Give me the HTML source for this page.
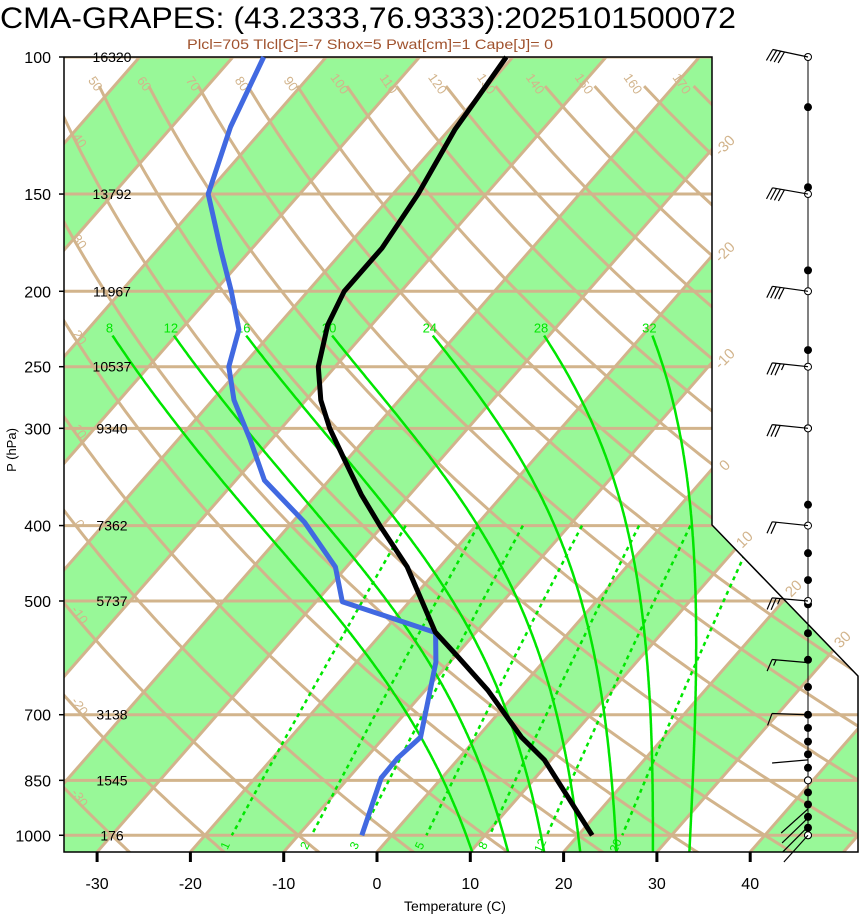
<!DOCTYPE html>
<html><head><meta charset="utf-8"><style>
html,body{margin:0;padding:0;background:#fff;}
svg{display:block;font-family:"Liberation Sans",Arial,sans-serif;}
</style></head><body>
<svg id="chart" width="860" height="914" viewBox="0 0 860 914" xmlns="http://www.w3.org/2000/svg">
<defs><clipPath id="plotclip"><polygon points="64,57 712,57 712,525 858,676 858,852 64,852"/></clipPath></defs>
<rect x="0" y="0" width="860" height="914" fill="#fff"/>
<text x="0" y="28" font-size="30" textLength="736" lengthAdjust="spacingAndGlyphs">CMA-GRAPES: (43.2333,76.9333):2025101500072</text>
<text x="187" y="49" font-size="14" fill="#a0522d" textLength="366" lengthAdjust="spacingAndGlyphs">Plcl=705 Tlcl[C]=-7 Shox=5 Pwat[cm]=1 Cape[J]= 0</text>
<g id="bg" clip-path="url(#plotclip)"></g>
<g id="fg"></g>
</svg>
<script>
// ---- data ----
const tempP = [1000,800,748,651,590,548,452,400,365,329,300,276,250,221,200,176,150,124,112,100];
const tempT = [21.5,9.3,4.7,-3.3,-9.6,-14.4,-23.5,-30.3,-35.2,-40.3,-44.8,-48.4,-51.8,-54.7,-56.1,-56.1,-57.3,-59.4,-60.0,-60.7];
const dewP = [1000,844,796,748,599,549,501,452,396,350,310,276,250,224,200,177,150,123,100];
const dewT = [-3.2,-6.5,-6.6,-6.1,-11.5,-14.3,-27.2,-31.2,-38.7,-46.9,-52.3,-57.7,-61.4,-63.8,-68.2,-73.2,-79.8,-83.7,-86.7];
const pLevels = [100,150,200,250,300,400,500,700,850,1000];
const heights = ["16320","13792","11967","10537","9340","7362","5737","3138","1545","176"];
const tTicks = [-30,-20,-10,0,10,20,30,40];
const moistLabels = [8,12,16,20,24,28,32];
const mixRatios = [1,2,3,5,8,12,20];
const mixLabels = ["1","2","3","5","8","12","20"];
const dryThetas = [-30,-20,-10,0,10,20,30,40,50,60,70,80,90,100,110,120,130,140,150,160,170];
const dotP = [116,147,188,238,300,376,434,470,505,550,595,645,700,728,758,787,819,850,881,913,947,978,1000];
const openP = [100,150,200,250,300,400,500,850,1000];
const barbP = [100,150,200,250,300,400,500,600,700,800,925,950,975,1000];
const barbDir = [282,280,278,276,276,276,275,275,272,265,228,226,225,222];
const barbSpd = [40,40,40,35,30,20,25,15,10,5,5,5,5,5];

// ---- axes ----
const NS="http://www.w3.org/2000/svg";
const Y0=57, YS=338, X0=377, XS=9.33, SK=0.875, YB=852;
function yP(p){return Y0+YS*Math.log(p/100);}
function xT(T,p){return X0+XS*T+SK*(YB-yP(p));}
function xTy(T,y){return X0+XS*T+SK*(YB-y);}
function mk(parent,tag,attrs){const e=document.createElementNS(NS,tag);for(const k in attrs)e.setAttribute(k,attrs[k]);parent.appendChild(e);return e;}
const bg=document.getElementById('bg'), fg=document.getElementById('fg');
const TAN="#d2b48c", GRN="#98f898", LG="#00e600";

for(let T=-200;T<=60;T+=20){
  const e=mk(bg,'polygon',{points:`${xTy(T,YB)},${YB} ${xTy(T+10,YB)},${YB} ${xTy(T+10,Y0)},${Y0} ${xTy(T,Y0)},${Y0}`,fill:GRN});
  
  
}
for(let T=-200;T<=60;T+=10){
  const e=mk(bg,'line',{x1:xTy(T,YB),y1:YB,x2:xTy(T,Y0),y2:Y0,stroke:TAN,'stroke-width':3});
  
  
}
dryThetas.forEach(th=>{
  let d='';
  for(let p=109;p<=1060;p+=8){const T=(th+273.15)*Math.pow(p/1000,0.2857)-273.15;d+=(d?'L':'M')+xT(T,p).toFixed(1)+','+yP(p).toFixed(1);}
  const e=mk(bg,'path',{d:d,fill:'none',stroke:TAN,'stroke-width':3});
  
  
  let lp=104, T=(th+273.15)*Math.pow(lp/1000,0.2857)-273.15, lx=xT(T,lp), ly=yP(lp)+16;
  if(lx<76){
    for(let p=104;p<1050;p+=1){T=(th+273.15)*Math.pow(p/1000,0.2857)-273.15;if(xT(T,p)>=76){lx=76;ly=yP(p);break;}}
  }
  if(lx<700 && ly<850){
    const t=mk(bg,'text',{x:lx,y:ly,'font-size':13,fill:TAN,'text-anchor':'middle',transform:`rotate(55 ${lx} ${ly})`});
    t.textContent=th;
    
    
  }
});
pLevels.forEach(p=>{
  const e=mk(bg,'line',{x1:64,y1:yP(p),x2:860,y2:yP(p),stroke:TAN,'stroke-width':3});
  
  
});
function es(Tk){return 6.112*Math.exp(17.67*(Tk-273.15)/(Tk-29.65));}
function dTdp(Tk,p){const e=es(Tk),rs=0.622*e/(p-e);return (287*Tk+2.5e6*rs)/(p*(1004+2.5e6*2.5e6*rs*0.622/(287*Tk*Tk)));}
moistLabels.forEach(T0=>{
  let pts=[];let T=T0+273.15,p=1000;
  let Td=T;for(let q=1000;q<1050;q+=2){Td+=dTdp(Td,q)*2;}
  pts.push([Td,1050]);
  T=T0+273.15;const up=[];
  for(p=1000;p>228;p-=2){up.push([T,p]);T-=dTdp(T,p)*2;}
  up.push([T,228]);
  pts=pts.concat(up);
  const d=pts.map((a,i)=>(i?'L':'M')+xT(a[0]-273.15,a[1]).toFixed(1)+','+yP(a[1]).toFixed(1)).join('');
  const e=mk(bg,'path',{d:d,fill:'none',stroke:LG,'stroke-width':2.5});
  
  
  const t=mk(bg,'text',{x:xT(T-273.15,228)-3,y:yP(228)-3,'font-size':13,fill:LG,'text-anchor':'middle'});
  t.textContent=T0;
  
  
});
function tdFromE(e){const l=Math.log(e/6.112);return 243.5*l/(17.67-l);}
mixRatios.forEach((w,i)=>{
  let d='';
  for(let p=400;p<=1000;p+=10){const e=w*p/(622+w);d+=(d?'L':'M')+xT(tdFromE(e),p).toFixed(1)+','+yP(p).toFixed(1);}
  const e=mk(bg,'path',{d:d,fill:'none',stroke:LG,'stroke-width':2.5,'stroke-dasharray':'4,4'});
  
  
  const lx=xT(tdFromE(w*1000/(622+w)),1000)-3, ly=yP(1000)+12;
  const t=mk(bg,'text',{x:lx,y:ly,'font-size':12,fill:LG,'text-anchor':'middle',transform:`rotate(-65 ${lx} ${ly})`});
  t.textContent=mixLabels[i];
  
  
});
[-30,-20,-10,0].forEach(T=>{
  const y=YB-(716-X0-XS*T)/SK;
  const t=mk(fg,'text',{x:724,y:y+6,'font-size':15,fill:TAN,'text-anchor':'middle',transform:`rotate(-45 724 ${y})`});
  t.textContent=T;
  
  
});
[[10,748,543],[20,797,592],[30,846,643]].forEach(a=>{
  const t=mk(fg,'text',{x:a[1],y:a[2],'font-size':15,fill:TAN,'text-anchor':'middle',transform:`rotate(-45 ${a[1]} ${a[2]})`});
  t.textContent=a[0];
  
  
});
const fr=mk(fg,'polyline',{points:'64,57 712,57 712,525 858,676 858,852 64,852 64,57',fill:'none',stroke:'#000','stroke-width':1.5});


function prof(P,T,color,name){
  const d=P.map((p,i)=>(i?'L':'M')+xT(T[i],p).toFixed(1)+','+yP(p).toFixed(1)).join('');
  const e=mk(fg,'path',{d:d,fill:'none',stroke:color,'stroke-width':5,'stroke-linejoin':'round'});
  
  
}
prof(dewP,dewT,'#4169e1','dewpoint-line');
prof(tempP,tempT,'#000','temperature-line');
pLevels.forEach((p,i)=>{
  const y=yP(p);
  const t=mk(fg,'text',{x:51,y:y+6,'font-size':16,'text-anchor':'end'});
  t.textContent=p;
  
  
  const tk=mk(fg,'line',{x1:59,y1:y,x2:64,y2:y,stroke:'#000','stroke-width':1.5});
  
  
  const h=mk(fg,'text',{x:112,y:y+5,'font-size':14,'text-anchor':'middle'});
  h.textContent=heights[i];
  
  
});
tTicks.forEach(T=>{
  const x=X0+XS*T;
  const tk=mk(fg,'line',{x1:x,y1:852,x2:x,y2:862,stroke:'#000','stroke-width':3});
  
  
  const t=mk(fg,'text',{x:x,y:889,'font-size':16,'text-anchor':'middle'});
  t.textContent=T;
  
  
});
const xt=mk(fg,'text',{x:455,y:911,'font-size':14,'text-anchor':'middle'});xt.textContent='Temperature (C)';


const yt=mk(fg,'text',{x:16,y:450,'font-size':13,'text-anchor':'middle',transform:'rotate(-90 16 450)'});yt.textContent='P (hPa)';


const WX=808;
const wl=mk(fg,'line',{x1:WX,y1:57,x2:WX,y2:yP(1000),stroke:'#000','stroke-width':1});


dotP.forEach(p=>{
  const c=mk(fg,'circle',{cx:WX,cy:yP(p),r:4,fill:'#000'});
  
  
});
openP.forEach(p=>{
  const c=mk(fg,'circle',{cx:WX,cy:yP(p),r:3.5,fill:'#fff',stroke:'#000','stroke-width':1});
  
  
});
barbP.forEach((p,i)=>{
  const y=yP(p), a=barbDir[i]*Math.PI/180, L=36;
  const dx=Math.sin(a), dy=-Math.cos(a);
  const ex=WX+dx*L, ey=y+dy*L;
  let d=`M${WX},${y}L${ex.toFixed(1)},${ey.toFixed(1)}`;
  const fx=-dy, fy=dx;
  let n=Math.floor(barbSpd[i]/10), half=(barbSpd[i]%10)>=5;
  for(let k=0;k<n;k++){
    const bx=ex-dx*k*4, by=ey-dy*k*4;
    d+=`M${bx.toFixed(1)},${by.toFixed(1)}l${(fx*-12+dx*4).toFixed(1)},${(fy*-12+dy*4).toFixed(1)}`;
  }
  if(half&&n>0){const bx=ex-dx*n*4,by=ey-dy*n*4;d+=`M${bx.toFixed(1)},${by.toFixed(1)}l${(fx*-6+dx*2).toFixed(1)},${(fy*-6+dy*2).toFixed(1)}`;}
  const e=mk(fg,'path',{d:d,fill:'none',stroke:'#000','stroke-width':1.2});
  
  
});
</script>
</body></html>
